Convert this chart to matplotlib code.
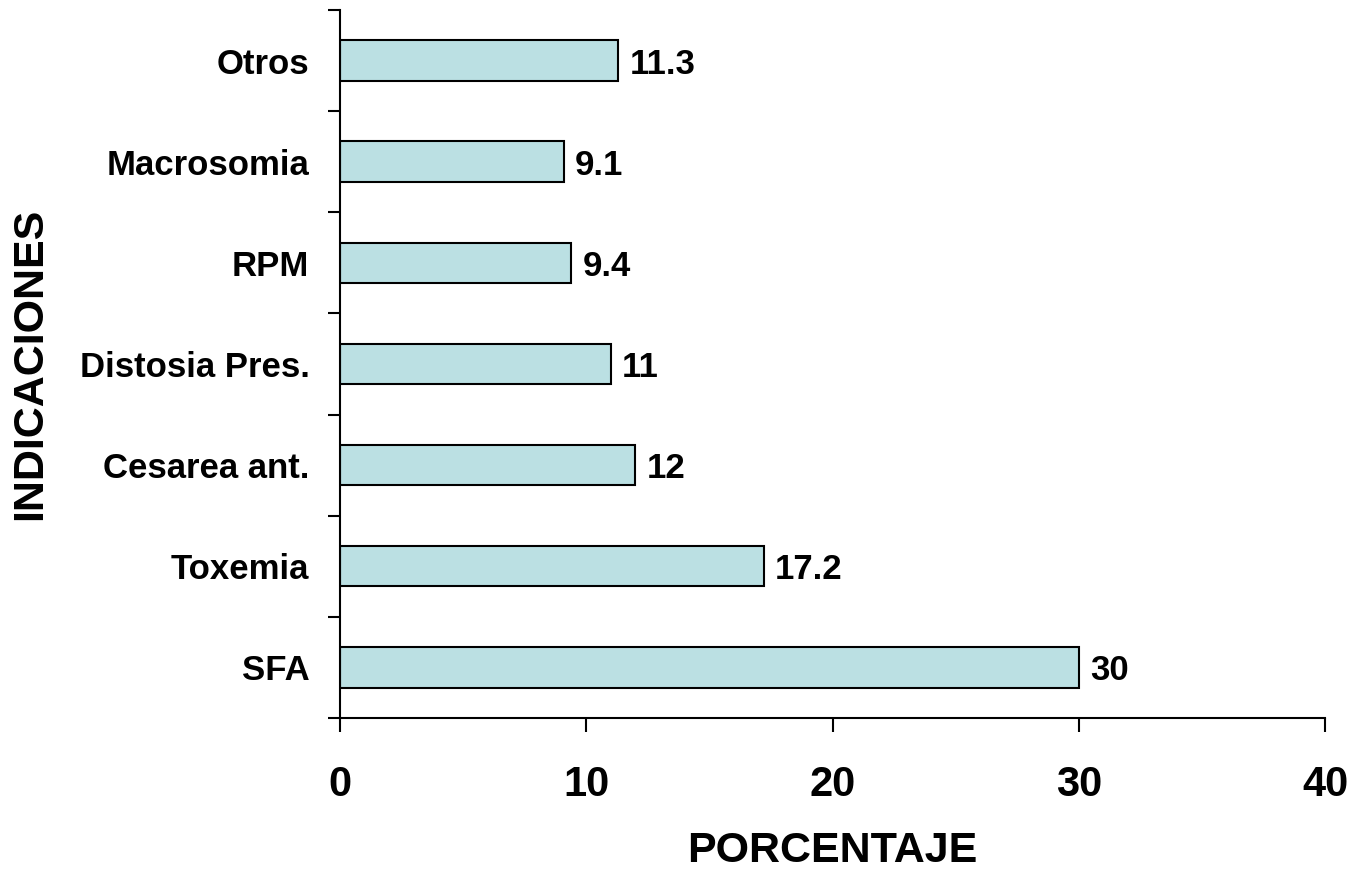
import matplotlib.pyplot as plt
import numpy as np

plt.rcParams['font.family'] = ['Liberation Sans', 'DejaVu Sans']
plt.rcParams['font.weight'] = 'bold'

categorias = ['SFA', 'Toxemia', 'Cesarea ant.', 'Distosia Pres.', 'RPM', 'Macrosomia', 'Otros']
porcentaje = [30, 17.2, 12, 11, 9.4, 9.1, 11.3]
etiquetas = ['30', '17.2', '12', '11', '9.4', '9.1', '11.3']
xticks = [0, 10, 20, 30, 40]

fig = plt.figure(figsize=(13.54, 8.71), dpi=100)
ax = fig.add_axes([0.2511, 0.1757, 0.7275, 0.8128])

y = np.arange(len(categorias))
ax.barh(y, porcentaje, height=0.4, color='#BBE0E3', edgecolor='black', linewidth=1.5)

for yi, v, t in zip(y, porcentaje, etiquetas):
    ax.annotate(t, (v, yi), xytext=(8, 0), textcoords='offset points',
                va='center_baseline', ha='left', fontsize=25, fontweight='bold')

ax.set_xlim(0, 40)
ax.set_ylim(-0.5, len(categorias) - 0.5)
ax.set_xticks(xticks)
ax.set_xticklabels([str(x) for x in xticks], fontsize=30, fontweight='bold')
ax.set_yticks(y)
ax.set_yticklabels(categorias, fontsize=25, fontweight='bold', va='center_baseline')
ax.set_yticks(np.arange(-0.5, len(categorias)), minor=True)

ax.tick_params(axis='y', which='major', length=0, pad=22)
ax.tick_params(axis='y', which='minor', length=9, width=1.5)
ax.tick_params(axis='x', which='major', length=10, width=1.5, pad=24)

ax.spines['top'].set_visible(False)
ax.spines['right'].set_visible(False)
for s in ['left', 'bottom']:
    ax.spines[s].set_linewidth(1.5)

ax.set_xlabel('PORCENTAJE', fontsize=31, fontweight='bold')
ax.set_ylabel('INDICACIONES', fontsize=31, fontweight='bold')
ax.xaxis.set_label_coords(0.5, -0.16)
ax.yaxis.set_label_coords(-0.294, 0.5)

fig.savefig('out.png', dpi=100)
